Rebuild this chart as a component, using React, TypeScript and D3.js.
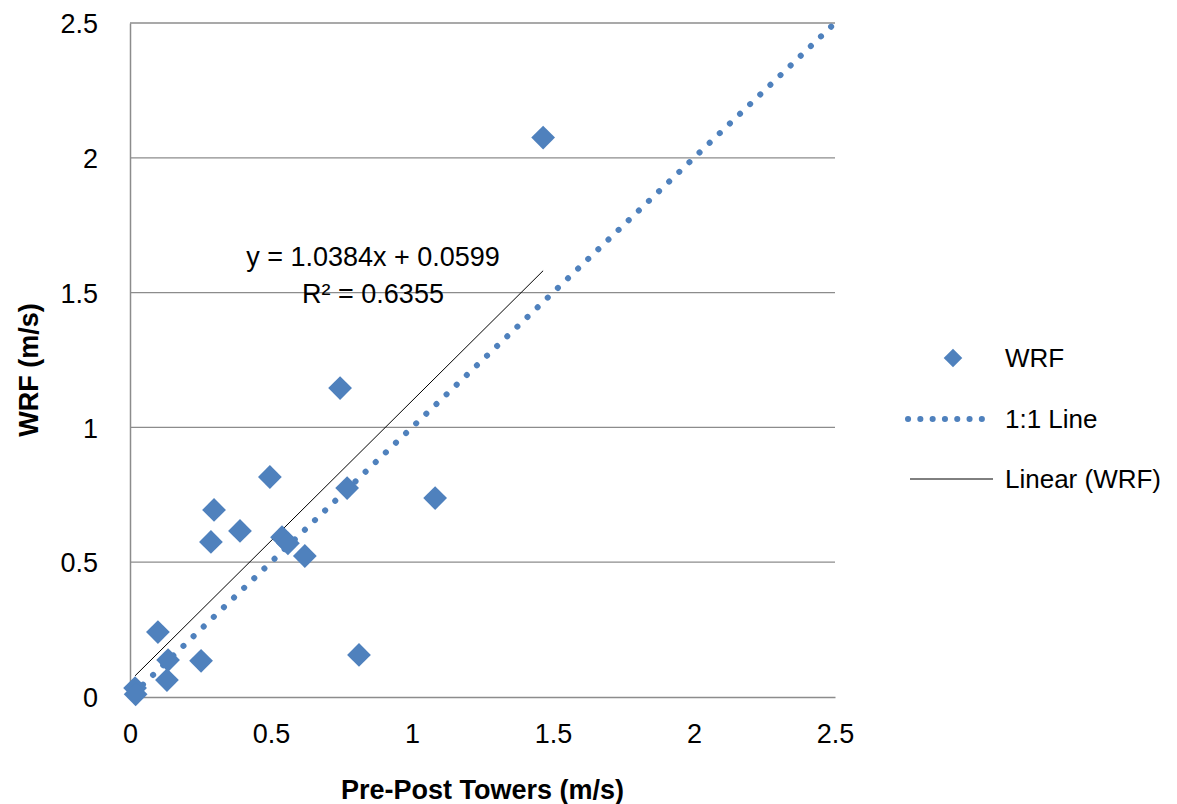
import React, { useEffect, useRef } from 'react';
import * as d3 from 'd3';

// WRF vs. pre/post tower wind speed differences (m/s)
const towerValues = [1.465, 0.745, 0.496, 0.77, 1.082, 0.298, 0.39, 0.287, 0.539, 0.56, 0.62, 0.812, 0.099, 0.135, 0.131, 0.252, 0.018, 0.02];
const wrfValues = [2.075, 1.146, 0.816, 0.775, 0.738, 0.694, 0.616, 0.575, 0.593, 0.57, 0.523, 0.156, 0.241, 0.137, 0.063, 0.134, 0.033, 0.01];
const tickValues = [0, 0.5, 1, 1.5, 2, 2.5];
const trendSlope = 1.0384;
const trendIntercept = 0.0599;
const legendLabels = ['WRF', '1:1 Line', 'Linear (WRF)'];

const BLUE = '#4F81BD';
const FONT = '"Liberation Sans", Arial, sans-serif';

const App = () => {
  const svgRef = useRef<SVGSVGElement>(null);

  useEffect(() => {
    const width = 1177;
    const height = 804;
    const margin = { top: 23, right: 342, bottom: 107, left: 130 };

    const svg = d3.select(svgRef.current)
      .attr('width', width)
      .attr('height', height)
      .style('position', 'absolute')
      .style('left', '0px')
      .style('top', '0px')
      .style('background', '#fff');

    svg.selectAll('*').remove();

    const x = d3.scaleLinear().domain([0, 2.5]).range([margin.left, width - margin.right]);
    const y = d3.scaleLinear().domain([0, 2.5]).range([height - margin.bottom, margin.top]);

    // horizontal gridlines
    svg.append('g')
      .selectAll('line')
      .data(tickValues.slice(1))
      .enter()
      .append('line')
      .attr('x1', x(0))
      .attr('x2', x(2.5))
      .attr('y1', d => y(d))
      .attr('y2', d => y(d))
      .attr('stroke', '#8c8c8c')
      .attr('stroke-width', 1.3);

    // axes
    const xAxis = svg.append('g')
      .attr('transform', `translate(0, ${y(0)})`)
      .call(d3.axisBottom(x).tickValues(tickValues).tickSize(0).tickPadding(22).tickFormat(d3.format('')));
    const yAxis = svg.append('g')
      .attr('transform', `translate(${x(0)}, 0)`)
      .call(d3.axisLeft(y).tickValues(tickValues).tickSize(0).tickPadding(32).tickFormat(d3.format('')));

    [xAxis, yAxis].forEach(g => {
      g.select('.domain').attr('stroke', '#8c8c8c').attr('stroke-width', 1.5);
      g.selectAll('text')
        .attr('font-family', FONT)
        .attr('font-size', 27)
        .attr('fill', '#000');
    });
    xAxis.selectAll('text').attr('dy', '0.9em');
    yAxis.selectAll('text').attr('dy', '0.36em');

    // 1:1 line
    svg.append('line')
      .attr('x1', x(0.01))
      .attr('y1', y(0.01))
      .attr('x2', x(2.5))
      .attr('y2', y(2.5))
      .attr('stroke', BLUE)
      .attr('stroke-width', 6)
      .attr('stroke-linecap', 'round')
      .attr('stroke-dasharray', '0.1 13.9');

    // linear trend
    const xMin = d3.min(towerValues) as number;
    const xMax = d3.max(towerValues) as number;
    svg.append('line')
      .attr('x1', x(xMin))
      .attr('y1', y(trendSlope * xMin + trendIntercept))
      .attr('x2', x(xMax))
      .attr('y2', y(trendSlope * xMax + trendIntercept))
      .attr('stroke', '#000')
      .attr('stroke-width', 1);

    // diamonds
    const diamond = d3.symbol().type(d3.symbolDiamond2).size(360);
    svg.append('g')
      .selectAll('path')
      .data(towerValues.map((t, i) => [t, wrfValues[i]]))
      .enter()
      .append('path')
      .attr('d', diamond)
      .attr('transform', d => `translate(${x(d[0])}, ${y(d[1])})`)
      .attr('fill', BLUE);

    // equation
    const eq = svg.append('text')
      .attr('font-family', FONT)
      .attr('font-size', 27)
      .attr('text-anchor', 'middle')
      .attr('fill', '#000');
    eq.append('tspan').attr('x', 373).attr('y', 266)
      .text(`y = ${trendSlope}x + ${trendIntercept}`);
    eq.append('tspan').attr('x', 373).attr('y', 303)
      .text('R² = 0.6355');

    // axis titles
    svg.append('text')
      .attr('x', x(1.25))
      .attr('y', 799)
      .attr('text-anchor', 'middle')
      .attr('font-family', FONT)
      .attr('font-size', 27)
      .attr('font-weight', 'bold')
      .text('Pre-Post Towers (m/s)');

    svg.append('text')
      .attr('transform', 'translate(38, 370) rotate(-90)')
      .attr('text-anchor', 'middle')
      .attr('font-family', FONT)
      .attr('font-size', 27)
      .attr('font-weight', 'bold')
      .text('WRF (m/s)');

    // legend
    const legend = svg.append('g');
    const rows = [358, 419, 479];
    legend.append('path')
      .attr('d', d3.symbol().type(d3.symbolDiamond2).size(220))
      .attr('transform', `translate(953, ${rows[0]})`)
      .attr('fill', BLUE);
    legend.append('line')
      .attr('x1', 908).attr('x2', 982)
      .attr('y1', rows[1]).attr('y2', rows[1])
      .attr('stroke', BLUE)
      .attr('stroke-width', 6)
      .attr('stroke-linecap', 'round')
      .attr('stroke-dasharray', '0.1 12.2');
    legend.append('line')
      .attr('x1', 910).attr('x2', 993)
      .attr('y1', rows[2]).attr('y2', rows[2])
      .attr('stroke', '#000')
      .attr('stroke-width', 1);
    legend.selectAll('text')
      .data(legendLabels)
      .enter()
      .append('text')
      .attr('x', 1005)
      .attr('y', (d, i) => rows[i])
      .attr('dy', '0.36em')
      .attr('font-family', FONT)
      .attr('font-size', 26)
      .text(d => d);
  }, []);

  return <svg ref={svgRef}></svg>;
};

export default App;
